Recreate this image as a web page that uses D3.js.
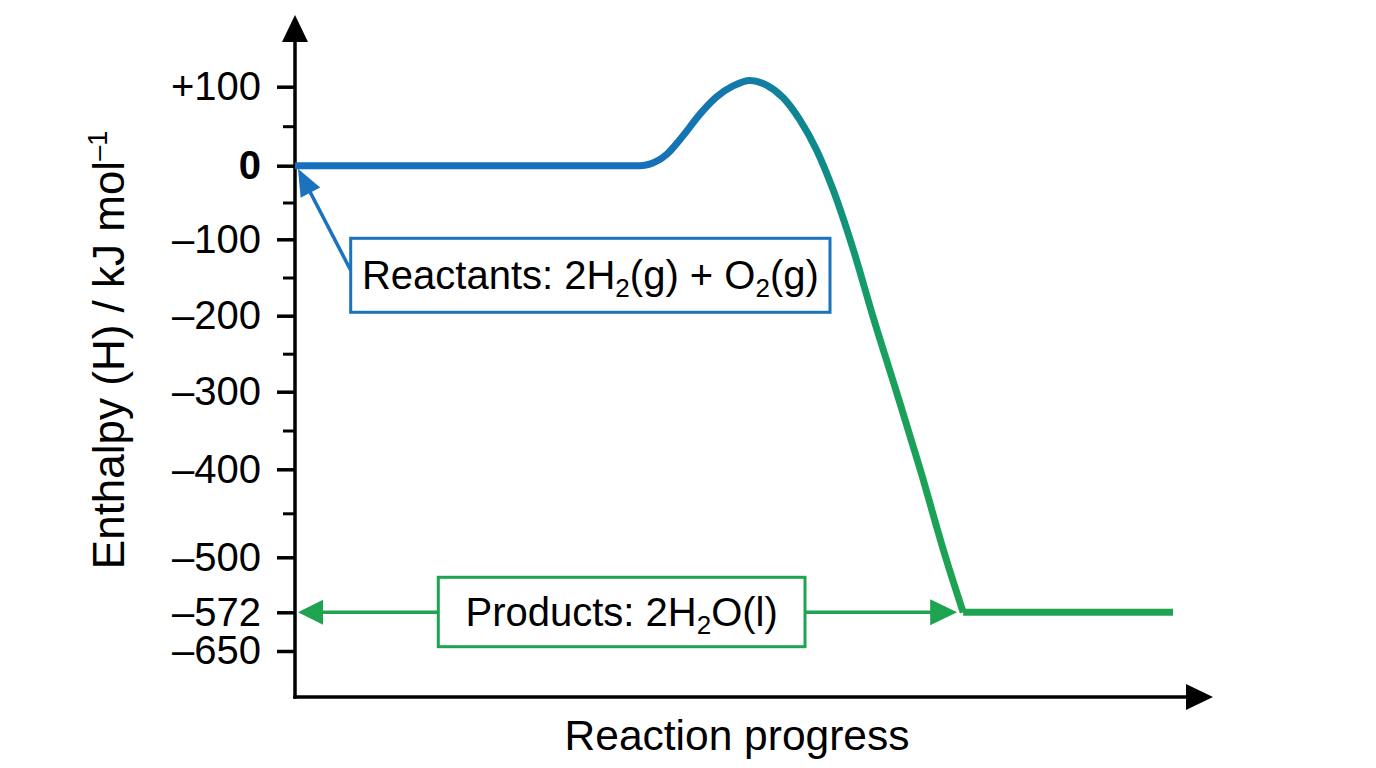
<!DOCTYPE html>
<html><head><meta charset="utf-8">
<script src="https://cdn.jsdelivr.net/npm/d3@7"></script>
<style>html,body{margin:0;background:#fff}svg{display:block;font-family:"Liberation Sans",Arial,sans-serif}</style>
</head><body><svg id="c" width="1376" height="768"></svg>
<script>
// ---------- data ----------
const yTickValues = [100, 0, -100, -200, -300, -400, -500, -572, -650];
const yTickLabels = ["+100", "0", "\u2013100", "\u2013200", "\u2013300", "\u2013400", "\u2013500", "\u2013572", "\u2013650"];
const yMinorTicks = [50, -50, -150, -250, -350, -450];
// reaction pathway (progress %, enthalpy kJ/mol)
const progress = [0, 39.3, 40.4, 42.3, 44.2, 46.1, 48.0, 49.9, 51.8, 53.7, 55.6, 57.5, 59.4, 61.3, 63.6, 65.8, 68.5, 71.2, 74.1, 76.1];
const enthalpy = [0, 0, 2, 14, 38, 65, 87, 101, 108, 102, 86, 58, 20, -33, -114, -200, -300, -400, -500, -572];
const productProgress = [76.1, 100];
const productEnthalpy = [-572, -572];
const reactantsValue = 0;
const productsValue = -572;
const yAxisTitle = "Enthalpy (H) / kJ mol";
const yAxisTitleSup = "\u20131";
const xAxisTitle = "Reaction progress";
const reactantsParts = [["Reactants: 2H", false], ["2", true], ["(g) + O", false], ["2", true], ["(g)", false]];
const productsParts = [["Products: 2H", false], ["2", true], ["O(l)", false]];

// ---------- layout ----------
const BLUE = "#1b72bd", GREEN = "#1ea350";
const frame = {left: 295, bottom: 697, top: 15, right: 1213};
const svg = d3.select("#c");
const x = d3.scaleLinear().domain([0, 100]).range([295, 1173]);
const y = d3.scaleLinear().domain(yTickValues)
  .range([86.7, 165.7, 239.3, 315.7, 391.7, 469.3, 557.3, 612.3, 651]);

// gradient along the pathway
const defs = svg.append("defs");
const grad = defs.append("linearGradient").attr("id", "pathGrad")
  .attr("gradientUnits", "userSpaceOnUse")
  .attr("x1", x(39)).attr("x2", x(76.1)).attr("y1", 0).attr("y2", 0);
[[0, "#1570bd"], [0.3, "#1379aa"], [0.55, "#0e8a8b"], [0.75, "#17a05e"], [1, GREEN]]
  .forEach(([o, c]) => grad.append("stop").attr("offset", o).attr("stop-color", c));

// ---------- axes ----------
const yAxis = svg.append("g").attr("transform", `translate(${frame.left},0)`)
  .call(d3.axisLeft(y).tickValues(yTickValues).tickSize(18).tickPadding(16)
    .tickFormat((d, i) => yTickLabels[i]));
yAxis.select(".domain").remove();
yAxis.selectAll(".tick line").attr("stroke", "#000").attr("stroke-width", 3.5);
yAxis.selectAll(".tick text").attr("font-size", 40).attr("fill", "#000")
  .attr("font-family", "'Liberation Sans', Arial, sans-serif")
  .attr("font-weight", d => d === 0 ? "bold" : "normal");
const yMinor = svg.append("g").attr("transform", `translate(${frame.left},0)`)
  .call(d3.axisLeft(y).tickValues(yMinorTicks).tickSize(12).tickFormat(""));
yMinor.select(".domain").remove();
yMinor.selectAll(".tick line").attr("stroke", "#000").attr("stroke-width", 3);

// axis lines with arrowheads
svg.append("line").attr("x1", frame.left).attr("x2", frame.left)
  .attr("y1", frame.bottom + 1.75).attr("y2", frame.top + 22)
  .attr("stroke", "#000").attr("stroke-width", 3.5);
svg.append("path").attr("d", `M${frame.left},${frame.top}L${frame.left - 13},${frame.top + 27}L${frame.left + 13},${frame.top + 27}Z`).attr("fill", "#000");
svg.append("line").attr("x1", frame.left - 1.75).attr("x2", frame.right - 22)
  .attr("y1", frame.bottom).attr("y2", frame.bottom)
  .attr("stroke", "#000").attr("stroke-width", 3.5);
svg.append("path").attr("d", `M${frame.right},${frame.bottom}L${frame.right - 27},${frame.bottom - 13}L${frame.right - 27},${frame.bottom + 13}Z`).attr("fill", "#000");

// axis titles
const yt = svg.append("text").attr("transform", "translate(124,350) rotate(-90)")
  .attr("text-anchor", "middle").attr("font-size", 44).attr("fill", "#000");
yt.append("tspan").text(yAxisTitle);
yt.append("tspan").attr("font-size", 27).attr("dy", -17).text(yAxisTitleSup);
svg.append("text").attr("x", 737).attr("y", 750).attr("text-anchor", "middle")
  .attr("font-size", 42.5).attr("fill", "#000").text(xAxisTitle);

// ---------- pathway ----------
const pts = progress.map((p, i) => [p, enthalpy[i]]);
const line = d3.line().x(d => x(d[0])).y(d => y(d[1]));
svg.append("path").attr("d", line.curve(d3.curveMonotoneX)(pts))
  .attr("fill", "none").attr("stroke", "url(#pathGrad)").attr("stroke-width", 7)
  .attr("stroke-linejoin", "round");
svg.append("path").attr("d", d3.line().x(d => x(d[0])).y(d => y(d[1]))(productProgress.map((p, i) => [p, productEnthalpy[i]])))
  .attr("fill", "none").attr("stroke", GREEN).attr("stroke-width", 7).attr("stroke-linejoin", "miter");

// ---------- annotations ----------
function arrow(from, tip, color, len, hw, sw) {
  const dx = tip[0] - from[0], dy = tip[1] - from[1], L = Math.hypot(dx, dy);
  const ux = dx / L, uy = dy / L, bx = tip[0] - ux * len, by = tip[1] - uy * len;
  svg.append("line").attr("x1", from[0]).attr("y1", from[1]).attr("x2", bx + ux * 2).attr("y2", by + uy * 2)
    .attr("stroke", color).attr("stroke-width", sw);
  svg.append("path").attr("d", `M${tip[0]},${tip[1]}L${bx - uy * hw},${by + ux * hw}L${bx + uy * hw},${by - ux * hw}Z`)
    .attr("fill", color);
}
// reactants arrow
const rBox = {x: 350.7, y: 238.3, w: 479.3, h: 74};
arrow([rBox.x, rBox.y + 32], [x(0) + 3, y(reactantsValue) + 3], BLUE, 27, 11, 3.5);
// products double arrow
const py = y(productsValue);
arrow([x(40), py], [x(0) + 3, py], GREEN, 25, 12.5, 3.5);
arrow([x(40), py], [x(productProgress[0]) - 6, py], GREEN, 27, 13, 3.5);
const pBox = {x: 438.3, y: 577.3, w: 366.7, h: 69.4};

function box(b, color, parts) {
  svg.append("rect").attr("x", b.x).attr("y", b.y).attr("width", b.w).attr("height", b.h)
    .attr("fill", "#fff").attr("stroke", color).attr("stroke-width", 3);
  const t = svg.append("text").attr("x", b.x + b.w / 2).attr("y", b.y + b.h / 2 + 14)
    .attr("text-anchor", "middle").attr("font-size", 40).attr("fill", "#000");
  let shifted = false;
  parts.forEach(([s, sub]) => {
    const ts = t.append("tspan").text(s);
    if (sub && !shifted) { ts.attr("font-size", 26).attr("dy", 8); shifted = true; }
    else if (!sub && shifted) { ts.attr("dy", -8); shifted = false; }
  });
}
box(rBox, BLUE, reactantsParts);
box(pBox, GREEN, productsParts);
</script></body></html>
